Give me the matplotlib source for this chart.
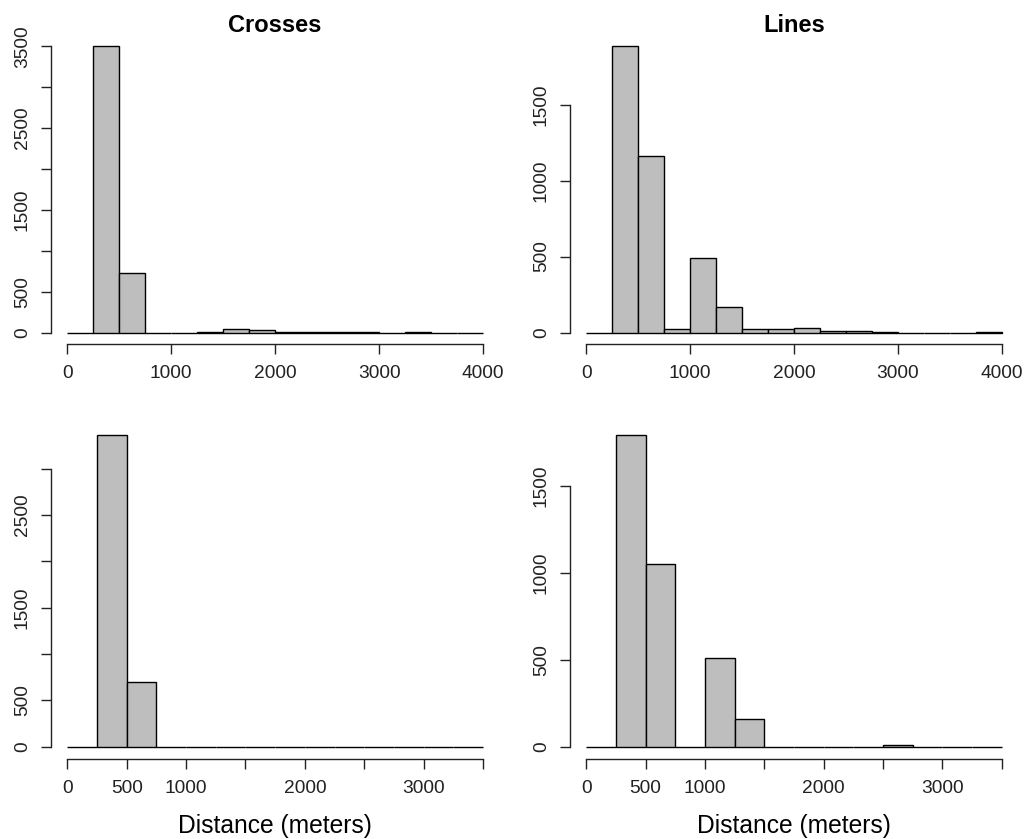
import numpy as np
import matplotlib
matplotlib.use("Agg")
import matplotlib.pyplot as plt

plt.rcParams['font.family'] = ['Liberation Sans', 'DejaVu Sans']

# ------------------------------
# Histogram counts, 250 m bins
# ------------------------------
bin_width = 250
edges_top = np.arange(0, 4001, bin_width)      # 0 .. 4000
edges_bottom = np.arange(0, 3501, bin_width)   # 0 .. 3500

crosses_top = [0, 3505, 730, 0, 0, 10, 44, 28, 8, 8, 8, 8, 0, 8, 0, 0]
lines_top = [0, 1886, 1164, 20, 491, 169, 24, 22, 33, 13, 12, 5, 0, 0, 0, 5]
crosses_bottom = [0, 3369, 693, 0, 0, 0, 0, 0, 0, 0, 0, 0, 0, 0]
lines_bottom = [0, 1796, 1052, 0, 512, 158, 0, 0, 0, 0, 6, 0, 0, 0]

titles = ['Crosses', 'Lines']
xlab = 'Distance (meters)'

# tick positions / labels (R drops labels that would overlap)
xticks_top = [0, 1000, 2000, 3000, 4000]
xticks_bottom = np.arange(0, 3501, 500)
xlabels_bottom = ['0', '500', '1000', '', '2000', '', '3000', '']
yticks_crosses_top = np.arange(0, 3501, 500)
ylabels_crosses_top = ['0', '500', '', '1500', '', '2500', '', '3500']
yticks_crosses_bottom = np.arange(0, 3001, 500)
ylabels_crosses_bottom = ['0', '500', '', '1500', '', '2500', '']
yticks_lines = [0, 500, 1000, 1500]

W, H = 1027, 839
fig = plt.figure(figsize=(W / 100, H / 100), dpi=100)

def px_axes(left, top, right, bottom):
    return fig.add_axes([left / W, 1 - bottom / H, (right - left) / W, (bottom - top) / H])

ax_tl = px_axes(50.7, 34.4, 499.6, 344)
ax_tr = px_axes(569.5, 34.4, 1018.5, 344)
ax_bl = px_axes(50.7, 422.3, 499.6, 759)
ax_br = px_axes(569.5, 422.3, 1018.5, 759)


def r_hist(ax, edges, counts, xticks, xlabels, yticks, ylabels):
    ax.bar(edges[:-1], counts, width=bin_width, align='edge',
           color='#bebebe', edgecolor='black', linewidth=1.0)
    xmax = edges[-1]
    ymax = max(counts)
    ax.set_xlim(-0.04 * xmax, 1.04 * xmax)
    ax.set_ylim(-0.04 * ymax, 1.04 * ymax)
    for s in ['top', 'right']:
        ax.spines[s].set_visible(False)
    ax.spines['left'].set_bounds(yticks[0], yticks[-1])
    ax.spines['bottom'].set_bounds(xticks[0], xticks[-1])
    for s in ['left', 'bottom']:
        ax.spines[s].set_linewidth(1.0)
        ax.spines[s].set_color('#222222')
    ax.set_xticks(xticks)
    ax.set_xticklabels(xlabels)
    ax.set_yticks(yticks)
    ax.set_yticklabels(ylabels, rotation=90, va='center')
    ax.tick_params(length=7.2, width=1.0, labelsize=13.8,
                   color='#222222', labelcolor='#222222')
    ax.tick_params(axis='x', pad=8)
    ax.tick_params(axis='y', pad=7)


r_hist(ax_tl, edges_top, crosses_top, xticks_top, [str(t) for t in xticks_top],
       yticks_crosses_top, ylabels_crosses_top)
r_hist(ax_tr, edges_top, lines_top, xticks_top, [str(t) for t in xticks_top],
       yticks_lines, [str(t) for t in yticks_lines])
r_hist(ax_bl, edges_bottom, crosses_bottom, xticks_bottom, xlabels_bottom,
       yticks_crosses_bottom, ylabels_crosses_bottom)
r_hist(ax_br, edges_bottom, lines_bottom, xticks_bottom, xlabels_bottom,
       yticks_lines, [str(t) for t in yticks_lines])

for ax, title in zip([ax_tl, ax_tr], titles):
    pos = ax.get_position()
    fig.text(pos.x0 + pos.width / 2, 1 - 31.5 / H, title, ha='center', va='baseline',
             fontsize=17, fontweight='bold')

for ax in [ax_bl, ax_br]:
    pos = ax.get_position()
    fig.text(pos.x0 + pos.width / 2, 1 - 833 / H, xlab, ha='center', va='baseline',
             fontsize=17.7)

fig.savefig('out.png', dpi=100)
